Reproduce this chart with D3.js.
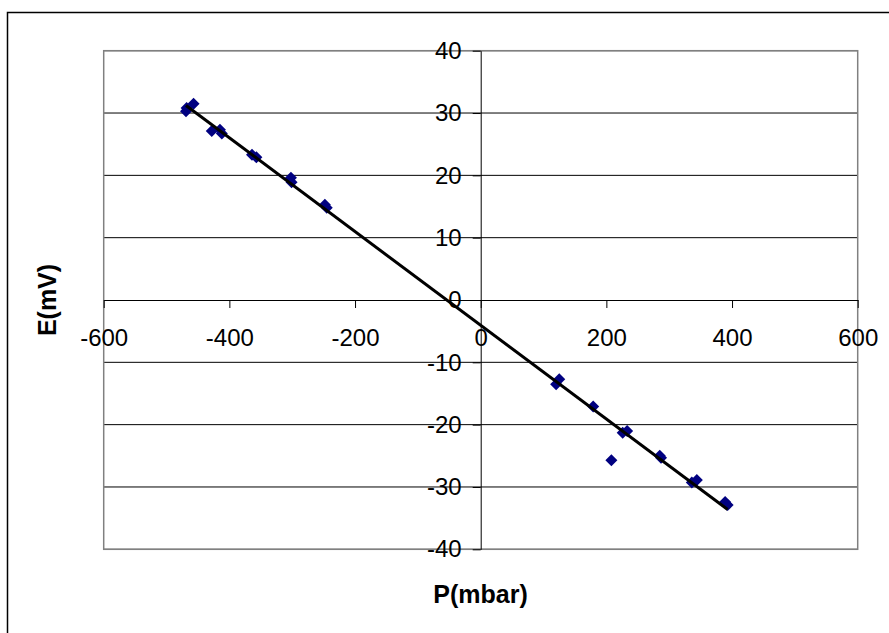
<!DOCTYPE html>
<html>
  <head>
    <meta charset="utf-8">
    <style>
      body { margin: 0; background: #fff; overflow: hidden; }
      text { font-family: "Liberation Sans", Arial, sans-serif; }
      .axis text { font-size: 24px; fill: #000; }
      .axis path, .axis line { stroke: #000; stroke-width: 1px; }
      .grid line { stroke: #000; stroke-width: 1px; }
      .title { font-size: 25px; font-weight: bold; }
    </style>
  </head>
  <body>
    <svg width="889" height="633"></svg>
    <script src="https://d3js.org/d3.v7.min.js"></script>
    <script>
      // readings from the picture: P in mbar, E in mV
      const pressure = [-469, -468, -457, -428, -415, -412, -364, -357, -302, -301, -248, -245,
                        120, 125, 179, 208, 226, 233, 285, 287, 336, 344, 389, 393];
      const potential = [30.3, 30.8, 31.5, 27.1, 27.3, 26.7, 23.3, 22.9, 19.6, 18.9, 15.3, 14.8,
                         -13.5, -12.7, -17.1, -25.7, -21.3, -21.0, -25.0, -25.3, -29.3, -28.9, -32.4, -32.9];
      const xTicks = [-600, -400, -200, 0, 200, 400, 600];
      const yTicks = [-40, -30, -20, -10, 0, 10, 20, 30, 40];

      const svg = d3.select('svg');

      // chart area border (runs off the right and bottom edges)
      svg.append('rect')
        .attr('x', 7.5).attr('y', 12.5)
        .attr('width', 1000).attr('height', 800)
        .attr('fill', 'none').attr('stroke', '#000').attr('stroke-width', 1.5);

      const x = d3.scaleLinear().domain([-600, 600]).range([103.7, 857.7]);
      const y = d3.scaleLinear().domain([-40, 40]).range([549.3, 50.7]);

      svg.append('g')
        .attr('class', 'grid')
        .selectAll('line')
        .data(yTicks.filter(d => d !== 0))
        .enter()
        .append('line')
        .attr('x1', x(-600)).attr('x2', x(600))
        .attr('y1', d => y(d)).attr('y2', d => y(d));

      svg.append('rect')
        .attr('x', x(-600)).attr('y', y(40))
        .attr('width', x(600) - x(-600)).attr('height', y(-40) - y(40))
        .attr('fill', 'none').attr('stroke', '#808080').attr('stroke-width', 1.5);

      const plain = d => String(d); // hyphen minus, as in the original

      svg.append('g')
        .attr('class', 'axis')
        .attr('transform', 'translate(0,' + y(0) + ')')
        .call(d3.axisBottom(x).tickValues(xTicks).tickFormat(plain)
          .tickSize(8).tickSizeOuter(0).tickPadding(21));

      svg.append('g')
        .attr('class', 'axis')
        .attr('transform', 'translate(' + x(0) + ',0)')
        .call(d3.axisLeft(y).tickValues(yTicks).tickFormat(plain)
          .tickSize(8).tickSizeOuter(0).tickPadding(11));

      // linear trendline (least squares), drawn over the data range
      const n = pressure.length;
      const mx = d3.mean(pressure), my = d3.mean(potential);
      let sxy = 0, sxx = 0;
      for (let i = 0; i < n; i++) {
        sxy += (pressure[i] - mx) * (potential[i] - my);
        sxx += (pressure[i] - mx) * (pressure[i] - mx);
      }
      const slope = sxy / sxx;
      const intercept = my - slope * mx;
      const ext = d3.extent(pressure);

      const points = pressure.map((p, i) => ({p: p, e: potential[i]}));

      svg.append('g')
        .selectAll('path')
        .data(points)
        .enter()
        .append('path')
        .attr('d', 'M0,-6L6,0L0,6L-6,0Z')
        .attr('transform', d => 'translate(' + x(d.p) + ',' + y(d.e) + ')')
        .attr('fill', '#000080');

      svg.append('line')
        .attr('x1', x(ext[0])).attr('y1', y(slope * ext[0] + intercept))
        .attr('x2', x(ext[1])).attr('y2', y(slope * ext[1] + intercept))
        .attr('stroke', '#000').attr('stroke-width', 3);

      svg.append('text')
        .attr('class', 'title')
        .attr('x', 480.5).attr('y', 603)
        .attr('text-anchor', 'middle')
        .text('P(mbar)');

      svg.append('text')
        .attr('class', 'title')
        .attr('transform', 'translate(56,300) rotate(-90)')
        .attr('text-anchor', 'middle')
        .text('E(mV)');
    </script>
  </body>
</html>
